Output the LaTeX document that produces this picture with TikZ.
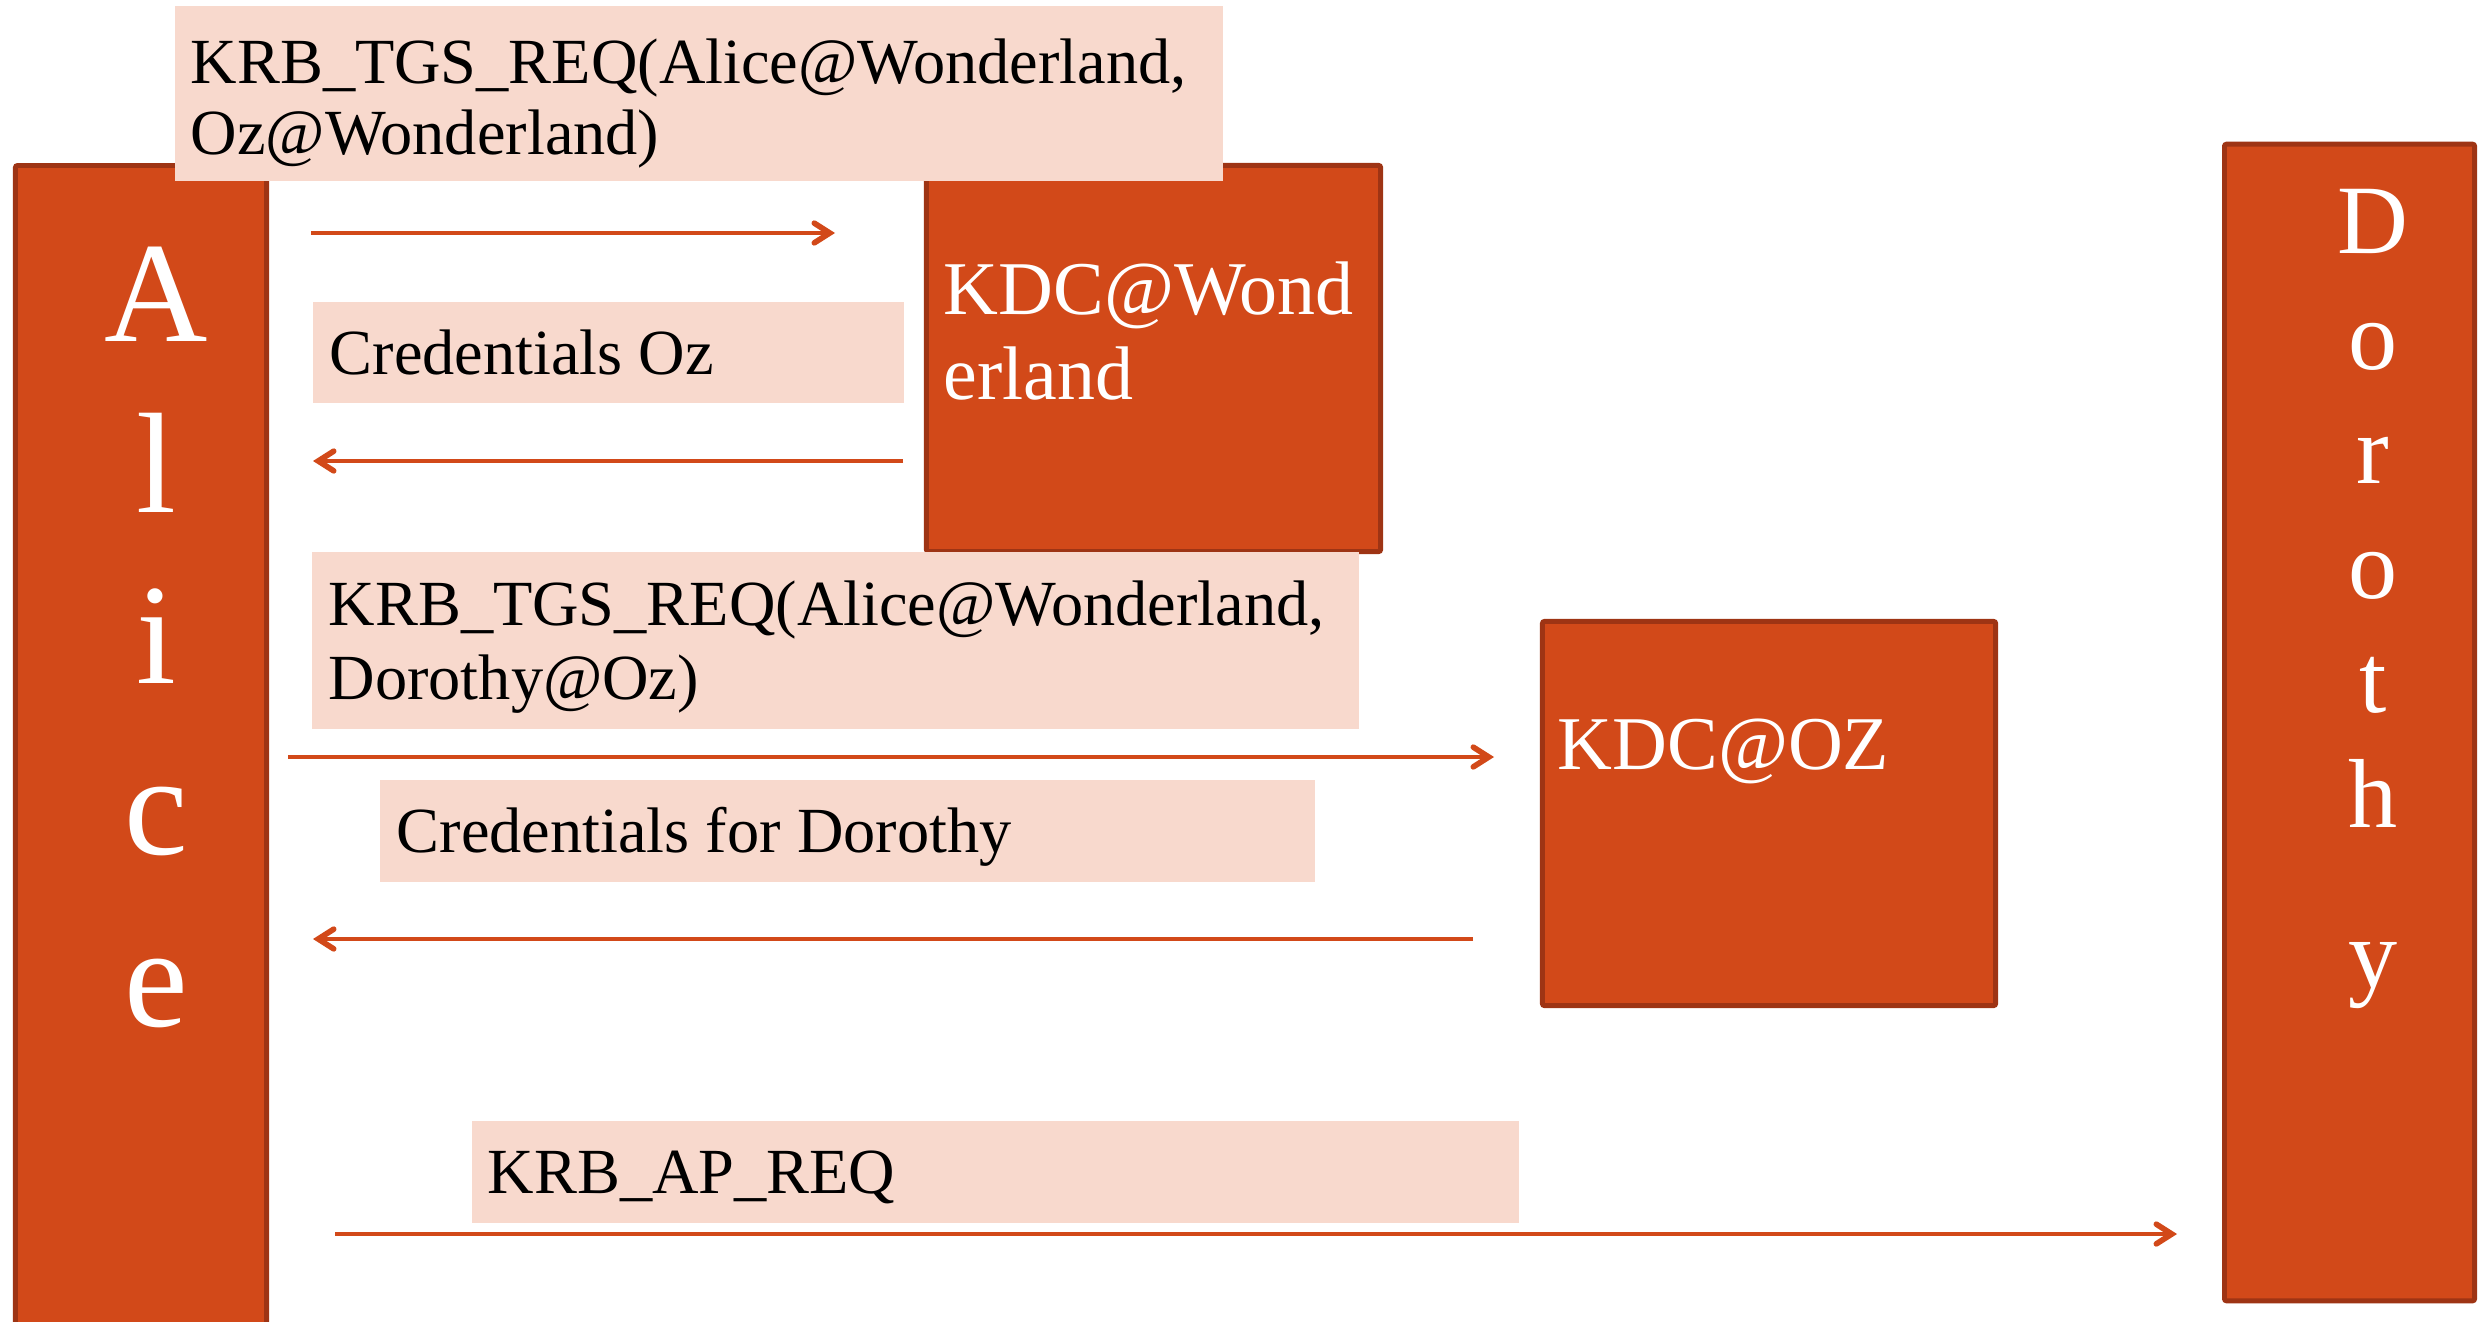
\documentclass[tikz,border=0pt]{standalone}
\usepackage{fontspec}
\setmainfont{Liberation Serif}
\usetikzlibrary{arrows.meta}

\definecolor{kdcfill}{HTML}{D24919}
\definecolor{kdcedge}{HTML}{9E3414}
\definecolor{msgfill}{HTML}{F8D9CD}

\newcommand{\msgfont}{\fontsize{18.3pt}{20pt}\selectfont}
\newcommand{\kdcfont}{\fontsize{21.6pt}{24pt}\selectfont}
\newcommand{\alicefont}{\fontsize{40.7pt}{44pt}\selectfont}
\newcommand{\dorofont}{\fontsize{27.9pt}{30pt}\selectfont}

\tikzset{
  party/.style={draw=kdcedge, fill=kdcfill, line width=1.4pt, rounded corners=0.6pt,
                inner sep=0pt, outer sep=0pt},
  msgbox/.style={fill=msgfill, inner sep=0pt, outer sep=0pt, anchor=north west},
  msgtext/.style={anchor=base west, inner sep=0pt, font=\msgfont, text=black},
  kdctext/.style={anchor=base west, inner sep=0pt, font=\kdcfont, text=white},
  aliceletter/.style={anchor=base, inner sep=0pt, font=\alicefont, text=white},
  doroletter/.style={anchor=base, inner sep=0pt, font=\dorofont, text=white},
  msgarrow/.style={draw=kdcfill, line width=1pt,
                   -{Straight Barb[length=4.4pt,width=5.6pt,line width=1.6pt,line cap=round]}},
}

\begin{document}
\begin{tikzpicture}[x=0.01cm, y=-0.01cm]
  \useasboundingbox (0,0) rectangle (2489,1321);
  \clip (0,0) rectangle (2489,1321);

  % principals and key distribution centres
  \node[party, anchor=north, minimum width=2.51cm, minimum height=12cm] (alice) at (141,165.5) {};
  \node[party, minimum width=2.50cm, minimum height=11.56cm] (dorothy) at (2349.5,722.5) {};
  \node[party, minimum width=4.54cm, minimum height=3.86cm] (kdcw) at (1153.5,358.5) {};
  \node[party, minimum width=4.53cm, minimum height=3.84cm] (kdcoz) at (1769,813.5) {};

  % vertical names
  \node[aliceletter] (a1) at (156,341)  {A};
  \node[aliceletter] (a2) at (156,512)  {l};
  \node[aliceletter] (a3) at (156,683)  {i};
  \node[aliceletter] (a4) at (156,854)  {c};
  \node[aliceletter] (a5) at (156,1026) {e};

  \node[doroletter] (d1) at (2373,253) {D};
  \node[doroletter] (d2) at (2373,369) {o};
  \node[doroletter] (d3) at (2373,483) {r};
  \node[doroletter] (d4) at (2373,598) {o};
  \node[doroletter] (d5) at (2373,712) {t};
  \node[doroletter] (d6) at (2373,827) {h};
  \node[doroletter] (d7) at (2373,987) {y};

  \node[kdctext] (kdcw1) at (943,314) {KDC@Wond};
  \node[kdctext] (kdcw2) at (943,399) {erland};
  \node[kdctext] (kdcozt) at (1557,769) {KDC@OZ};

  % message label boxes
  \node[msgbox, minimum width=10.47cm, minimum height=1.75cm] (m1) at (175,6) {};
  \node[msgbox, minimum width=5.91cm,  minimum height=1.01cm] (m2) at (313,302) {};
  \node[msgbox, minimum width=10.46cm, minimum height=1.77cm] (m3) at (312,552) {};
  \node[msgbox, minimum width=9.34cm,  minimum height=1.02cm] (m4) at (380,780) {};
  \node[msgbox, minimum width=10.46cm, minimum height=1.02cm] (m5) at (472,1121) {};

  \node[msgtext] (m1a) at (190,83)  {KRB\_TGS\_REQ(Alice@Wonderland,};
  \node[msgtext] (m1b) at (190,154) {Oz@Wonderland)};
  \node[msgtext] (m2a) at (329,374) {Credentials Oz};
  \node[msgtext] (m3a) at (328,625) {KRB\_TGS\_REQ(Alice@Wonderland,};
  \node[msgtext] (m3b) at (328,699) {Dorothy@Oz)};
  \node[msgtext] (m4a) at (396,852) {Credentials for Dorothy};
  \node[msgtext] (m5a) at (487,1193) {KRB\_AP\_REQ};

  % arrow end points
  \coordinate (r1s) at (311,233);  \coordinate (r1e) at (835,233);
  \coordinate (r2s) at (903,461);  \coordinate (r2e) at (313,461);
  \coordinate (r3s) at (288,757);  \coordinate (r3e) at (1494,757);
  \coordinate (r4s) at (1473,939); \coordinate (r4e) at (313,939);
  \coordinate (r5s) at (335,1234); \coordinate (r5e) at (2177,1234);

  \draw[msgarrow] (r1s) -- (r1e);
  \draw[msgarrow] (r2s) -- (r2e);
  \draw[msgarrow] (r3s) -- (r3e);
  \draw[msgarrow] (r4s) -- (r4e);
  \draw[msgarrow] (r5s) -- (r5e);
\end{tikzpicture}
\end{document}
